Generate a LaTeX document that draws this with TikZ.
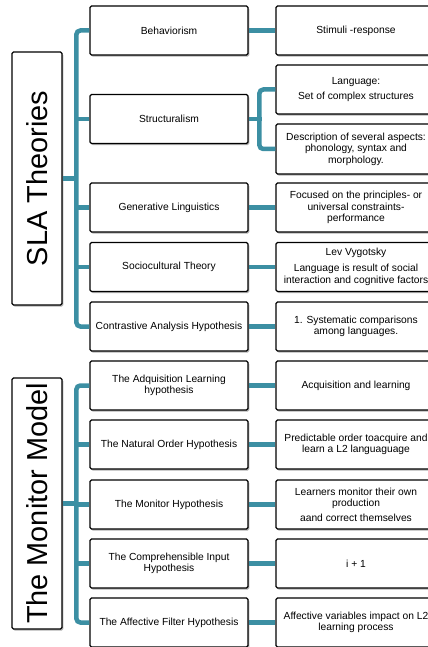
\documentclass[tikz,border=0pt]{standalone}
\usepackage{fontspec}
\setmainfont{Liberation Sans}
\usetikzlibrary{shadows}
\definecolor{tealc}{RGB}{60,143,163}
\begin{document}
\begin{tikzpicture}[x=1bp,y=-1bp,
  box/.style={draw=black, line width=1.3bp, fill=white, rounded corners=1.5bp,
    drop shadow={shadow xshift=1.3bp, shadow yshift=-1.6bp, opacity=0.3, fill=black},
    align=center, inner sep=1bp, font=\fontsize{10.3}{11.5}\selectfont},
  mid/.style={box, minimum width=158bp, minimum height=49bp},
  rgt/.style={box, minimum width=160bp, minimum height=49bp},
  ttl/.style={box, minimum width=50bp},
  ttltext/.style={rotate=90, inner sep=0pt, font=\fontsize{29}{30}\selectfont},
  conn/.style={draw=tealc, line width=4.5bp, rounded corners=4bp}
]
\useasboundingbox (0,0) rectangle (427,647);

% title boxes
\node[ttl, minimum height=253bp] (t1) at (37,178.5) {};
\node[ttltext] (t1x) at (t1.center) {SLA Theories};
\node[ttl, minimum height=251bp] (t2) at (37,503.5) {};
\node[ttltext] (t2x) at (t2.center) {The Monitor Model};

\coordinate (tr1) at (77,178.5);
\coordinate (tr2) at (77,503.5);

% middle boxes
\node[mid] (m1) at (169,30.5) {Behaviorism};
\node[mid] (m2) at (169,119) {Structuralism};
\node[mid] (m3) at (169,207.5) {Generative Linguistics};
\node[mid] (m4) at (169,267) {Sociocultural Theory};
\node[mid] (m5) at (169,326.5) {Contrastive Analysis Hypothesis};
\node[mid] (m6) at (169,385.5) {The Adquisition Learning\\hypothesis};
\node[mid] (m7) at (169,444.5) {The Natural Order Hypothesis};
\node[mid] (m8) at (169,504.5) {The Monitor Hypothesis};
\node[mid] (m9) at (169,563.5) {The Comprehensible Input\\Hypothesis};
\node[mid] (m10) at (169,622.5) {The Affective Filter Hypothesis};

% right boxes
\node[rgt] (r1) at (356,30.5) {Stimuli -response};
\node[rgt] (r2a) at (356,89.5) {Language:\\[3.5bp]Set of complex structures};
\node[rgt, minimum height=50bp] (r2b) at (356,149) {Description of several aspects:\\phonology, syntax and\\morphology.};
\node[rgt] (r3) at (356,207.5) {Focused on the principles- or\\universal constraints-\\performance};
\node[rgt] (r4) at (356,267) {Lev Vygotsky\\[4.5bp]Language is result of social\\interaction and cognitive factors};
\node[rgt] (r5) at (356,326.5) {1. Systematic comparisons\\among languages.};
\node[rgt] (r6) at (356,385.5) {Acquisition and learning};
\node[rgt] (r7) at (356,444.5) {Predictable order toacquire and\\learn a L2 languaguage};
\node[rgt] (r8) at (356,504.5) {Learners monitor their own\\production\\[3bp]aand correct themselves};
\node[rgt] (r9) at (356,563.5) {i + 1};
\node[rgt] (r10) at (356,622.5) {Affective variables impact on L2\\learning process};

% SLA trunk
\draw[conn] (m1.west) -- ++(-13,0) |- (m5.west);
\draw[conn] (t1.east) -- (tr1);
\foreach \m in {m2,m3,m4} \draw[conn] (\m.west) -- ++(-13,0);
% Monitor trunk
\draw[conn] (m6.west) -- ++(-13,0) |- (m10.west);
\draw[conn] (t2.east) -- (tr2);
\foreach \m in {m7,m8,m9} \draw[conn] (\m.west) -- ++(-13,0);
% middle to right
\foreach \a/\b in {m1/r1,m3/r3,m4/r4,m5/r5,m6/r6,m7/r7,m8/r8,m9/r9,m10/r10}
  \draw[conn] (\a.east) -- (\b.west);
% structuralism bracket
\draw[conn] (m2.east) -- ++(13,0);
\draw[conn] (r2a.west) -- ++(-16,0) |- (r2b.west);
\end{tikzpicture}
\end{document}
